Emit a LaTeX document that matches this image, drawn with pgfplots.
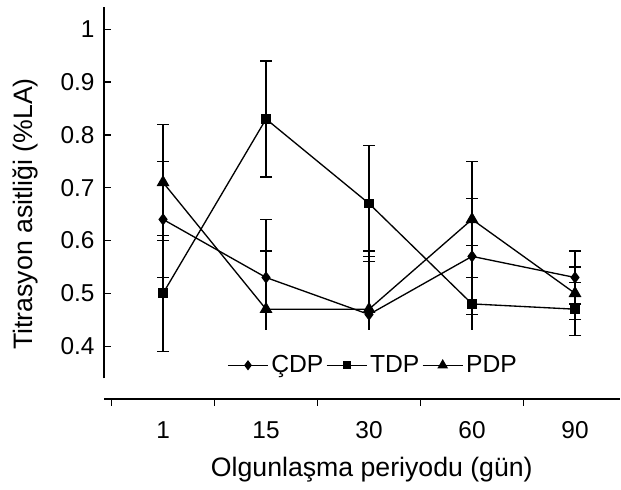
\documentclass[border=0pt]{standalone}
\usepackage{fontspec}
\setmainfont{Liberation Sans}
\usepackage{pgfplots}
\pgfplotsset{compat=1.18}
\begin{document}
\begin{tikzpicture}
\begin{axis}[
  scale only axis,
  width=387pt, height=294pt,
  xmin=-0.573, xmax=4.437,
  ymin=0.3, ymax=1.042,
  axis x line*=bottom,
  axis y line*=left,
  y axis line style={draw=none},
  x axis line style={line width=1pt},
  xtick={-0.5,0.5,1.5,2.5,3.5},
  xticklabels={},
  extra x ticks={0,1,2,3,4},
  extra x tick labels={1,15,30,60,90},
  extra x tick style={major tick length=0pt},
  xtick align=outside,
  ytick align=inside,
  ytick={0.4,0.5,0.6,0.7,0.8,0.9,1},
  major tick length=5pt,
  tick style={black, line width=1pt},
  /pgf/number format/assume math mode=true,
  tick label style={font=\fontsize{18.3}{21}\selectfont},
  xticklabel style={anchor=north, yshift=-13.4pt},
  yticklabel style={anchor=east, xshift=-3.6pt},
  label style={font=\fontsize{20}{23}\selectfont},
  xlabel={Olgunlaşma periyodu (gün)},
  ylabel={Titrasyon asitliği (\%LA)},
  xlabel style={at={(axis description cs:0.519,-0.181)}, anchor=center},
  ylabel style={at={(axis description cs:-0.153,0.472)}, anchor=center},
  clip=false,
  legend columns=-1,
  legend style={at={(axis description cs:0.522,0.086)}, anchor=center,
    draw=none, fill=none, inner sep=0pt,
    font=\fontsize{18.5}{21}\selectfont,
    nodes={inner xsep=2pt, inner ysep=1pt},
    /tikz/every even column/.append style={column sep=0pt}},
  legend image code/.code={%
    \draw[mark repeat=2,mark phase=2, mark size=0.8*\pgfplotmarksize] plot coordinates {(0pt,0pt)(15pt,0pt)(30pt,0pt)};},
  error bars/error bar style={line width=1pt, black},
  error bars/error mark options={rotate=90, line width=1pt, mark size=4.5pt, black},
]
% y axis line (stops above the detached x axis)
\draw[line width=1pt] (axis cs:-0.573,0.339) -- (axis cs:-0.573,1.042);
\coordinate (BBll) at (rel axis cs:-0.2016,-0.2296);
\coordinate (BBur) at (rel axis cs:1.0019,1.0179);

% error bars, capped both ways
\addplot[draw=none, mark=none, forget plot, error bars/.cd, y dir=both, y explicit]
  table[x=x, y=y, y error plus=e, y error minus=e] {
  x y e
  0 0.64 0.11
  3 0.57 0.11
  4 0.53 0.05
  0 0.50 0.11
  1 0.83 0.11
  2 0.67 0.11
  4 0.47 0.05
  0 0.71 0.11
  3 0.64 0.11
  4 0.50 0.05
};
% error bars, capped upward only
\addplot[draw=none, mark=none, forget plot, error bars/.cd, y dir=plus, y explicit]
  table[x=x, y=y, y error plus=e] {
  x y e
  1 0.53 0.11
  2 0.46 0.11
  3 0.48 0.11
  1 0.47 0.11
  2 0.47 0.11
};
% lower stubs without caps
\addplot[draw=none, mark=none, forget plot, error bars/.cd, y dir=minus, y explicit, error mark=none]
  table[x=x, y=y, y error minus=e] {
  x y e
  1 0.53 0.10
  2 0.46 0.03
  3 0.48 0.05
};

\addplot[black, line width=1pt, mark=diamond*, mark size=3.8pt] coordinates {
  (0,0.64) (1,0.53) (2,0.46) (3,0.57) (4,0.53)};
\addlegendentry{ÇDP}
\addplot[black, line width=1pt, mark=square*, mark size=3.2pt] coordinates {
  (0,0.50) (1,0.83) (2,0.67) (3,0.48) (4,0.47)};
\addlegendentry{TDP}
\addplot[black, line width=1pt, mark=triangle*, mark size=4.6pt] coordinates {
  (0,0.71) (1,0.47) (2,0.47) (3,0.64) (4,0.50)};
\addlegendentry{PDP}
\end{axis}
\pgfresetboundingbox
\path[use as bounding box] (BBll) rectangle (BBur);
\end{tikzpicture}
\end{document}
